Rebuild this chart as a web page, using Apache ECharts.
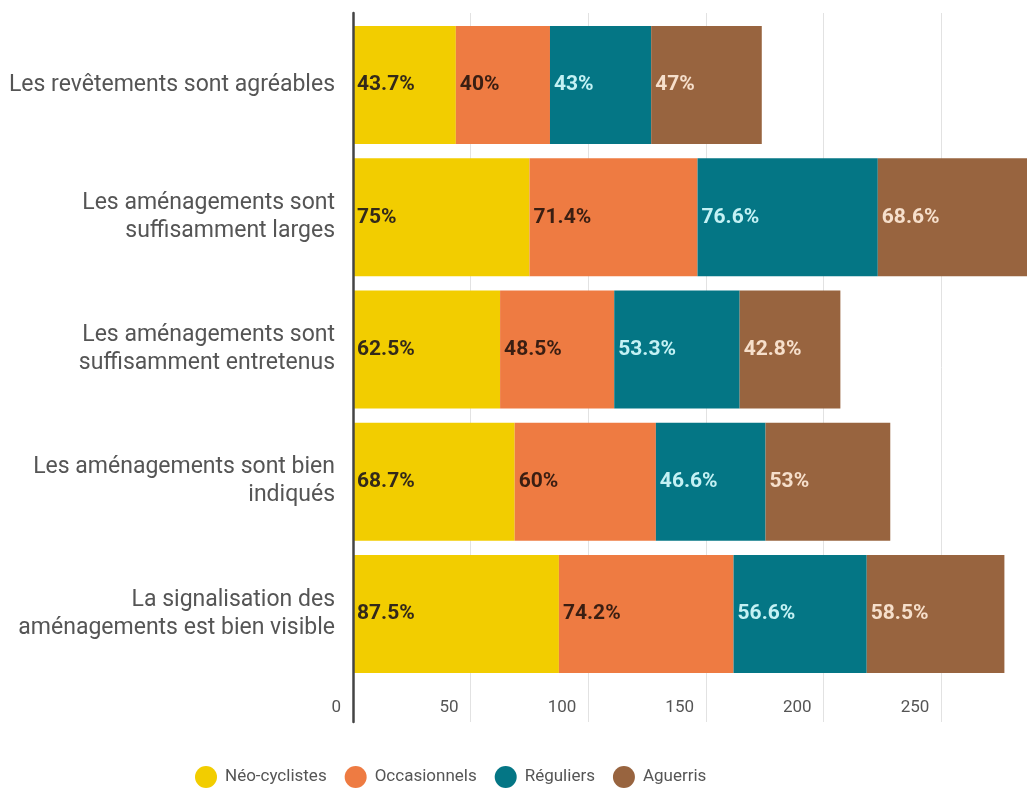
<!DOCTYPE html>
<html>
<head>
<meta charset="utf-8">
<script src="https://cdn.jsdelivr.net/npm/echarts@6/dist/echarts.min.js"></script>
<style>html,body{margin:0;padding:0;background:#fff}#c{width:1027px;height:791px}</style>
</head>
<body>
<div id="c"></div>
<script>
const categories = [
  "Les revêtements sont agréables",
  "Les aménagements sont\nsuffisamment larges",
  "Les aménagements sont\nsuffisamment entretenus",
  "Les aménagements sont bien\nindiqués",
  "La signalisation des\naménagements est bien visible"
];
const seriesNames = ["Néo-cyclistes", "Occasionnels", "Réguliers", "Aguerris"];
const neoCyclistes = [43.7, 75, 62.5, 68.7, 87.5];
const occasionnels = [40, 71.4, 48.5, 60, 74.2];
const reguliers = [43, 76.6, 53.3, 46.6, 56.6];
const aguerris = [47, 68.6, 42.8, 53, 58.5];
const xTicks = [0, 50, 100, 150, 200, 250];

const colors = ["#F2CD00", "#EE7B42", "#047685", "#98643F"];
const labelColors = ["#33291a", "#3a1e12", "#c4f1f4", "#f6dfcb"];
const allValues = [neoCyclistes, occasionnels, reguliers, aguerris];
const FONT = "Roboto";

const chart = echarts.init(document.getElementById('c'), null, {renderer: 'canvas'});
const option = {
  backgroundColor: '#ffffff',
  animation: false,
  textStyle: {fontFamily: FONT},
  legend: {
    left: 190, top: 761,
    icon: 'circle', itemWidth: 22, itemHeight: 22, itemGap: 18,
    textStyle: {color: '#555', fontSize: 17, fontFamily: FONT, padding: [0, 0, 0, 3]},
    data: seriesNames
  },
  grid: [
    {left: 353, width: 706, top: 19, height: 661, outerBoundsMode: 'none', containLabel: false},
    {left: 353, width: 706, top: 13, height: 709, outerBoundsMode: 'none', containLabel: false}
  ],
  xAxis: [
    {gridIndex: 0, type: 'value', min: 0, max: 300, interval: 50, show: false},
    {gridIndex: 1, type: 'value', min: 0, max: 300, interval: 50,
      axisLine: {show: false}, axisTick: {show: false},
      splitLine: {show: true, lineStyle: {color: '#e2e2e2', width: 1}},
      axisLabel: {
        inside: true, margin: 6, align: 'right', padding: [0, 12, 0, 0],
        color: '#555', fontSize: 17, fontFamily: FONT,
        formatter: function (v) { return xTicks.indexOf(v) >= 0 ? String(v) : ''; }
      }
    }
  ],
  yAxis: [
    {gridIndex: 0, type: 'category', inverse: true, data: categories,
      axisLine: {show: false}, axisTick: {show: false},
      axisLabel: {margin: 18, color: '#555', fontSize: 23, lineHeight: 28, fontFamily: FONT}
    },
    {gridIndex: 1, type: 'value', min: 0, max: 1, z: 10,
      axisLine: {show: true, lineStyle: {color: '#444', width: 2.5}},
      axisTick: {show: false}, axisLabel: {show: false}, splitLine: {show: false}
    }
  ],
  series: seriesNames.map(function (name, i) {
    return {
      name: name, type: 'bar', stack: 'total',
      xAxisIndex: 0, yAxisIndex: 0,
      barWidth: 118,
      itemStyle: {color: colors[i]},
      label: {
        show: true, position: 'insideLeft', distance: 4,
        formatter: '{c}%',
        color: labelColors[i], fontSize: 21, fontWeight: 'bold', fontFamily: FONT
      },
      data: allValues[i]
    };
  })
};
chart.setOption(option);
</script>
</body>
</html>
